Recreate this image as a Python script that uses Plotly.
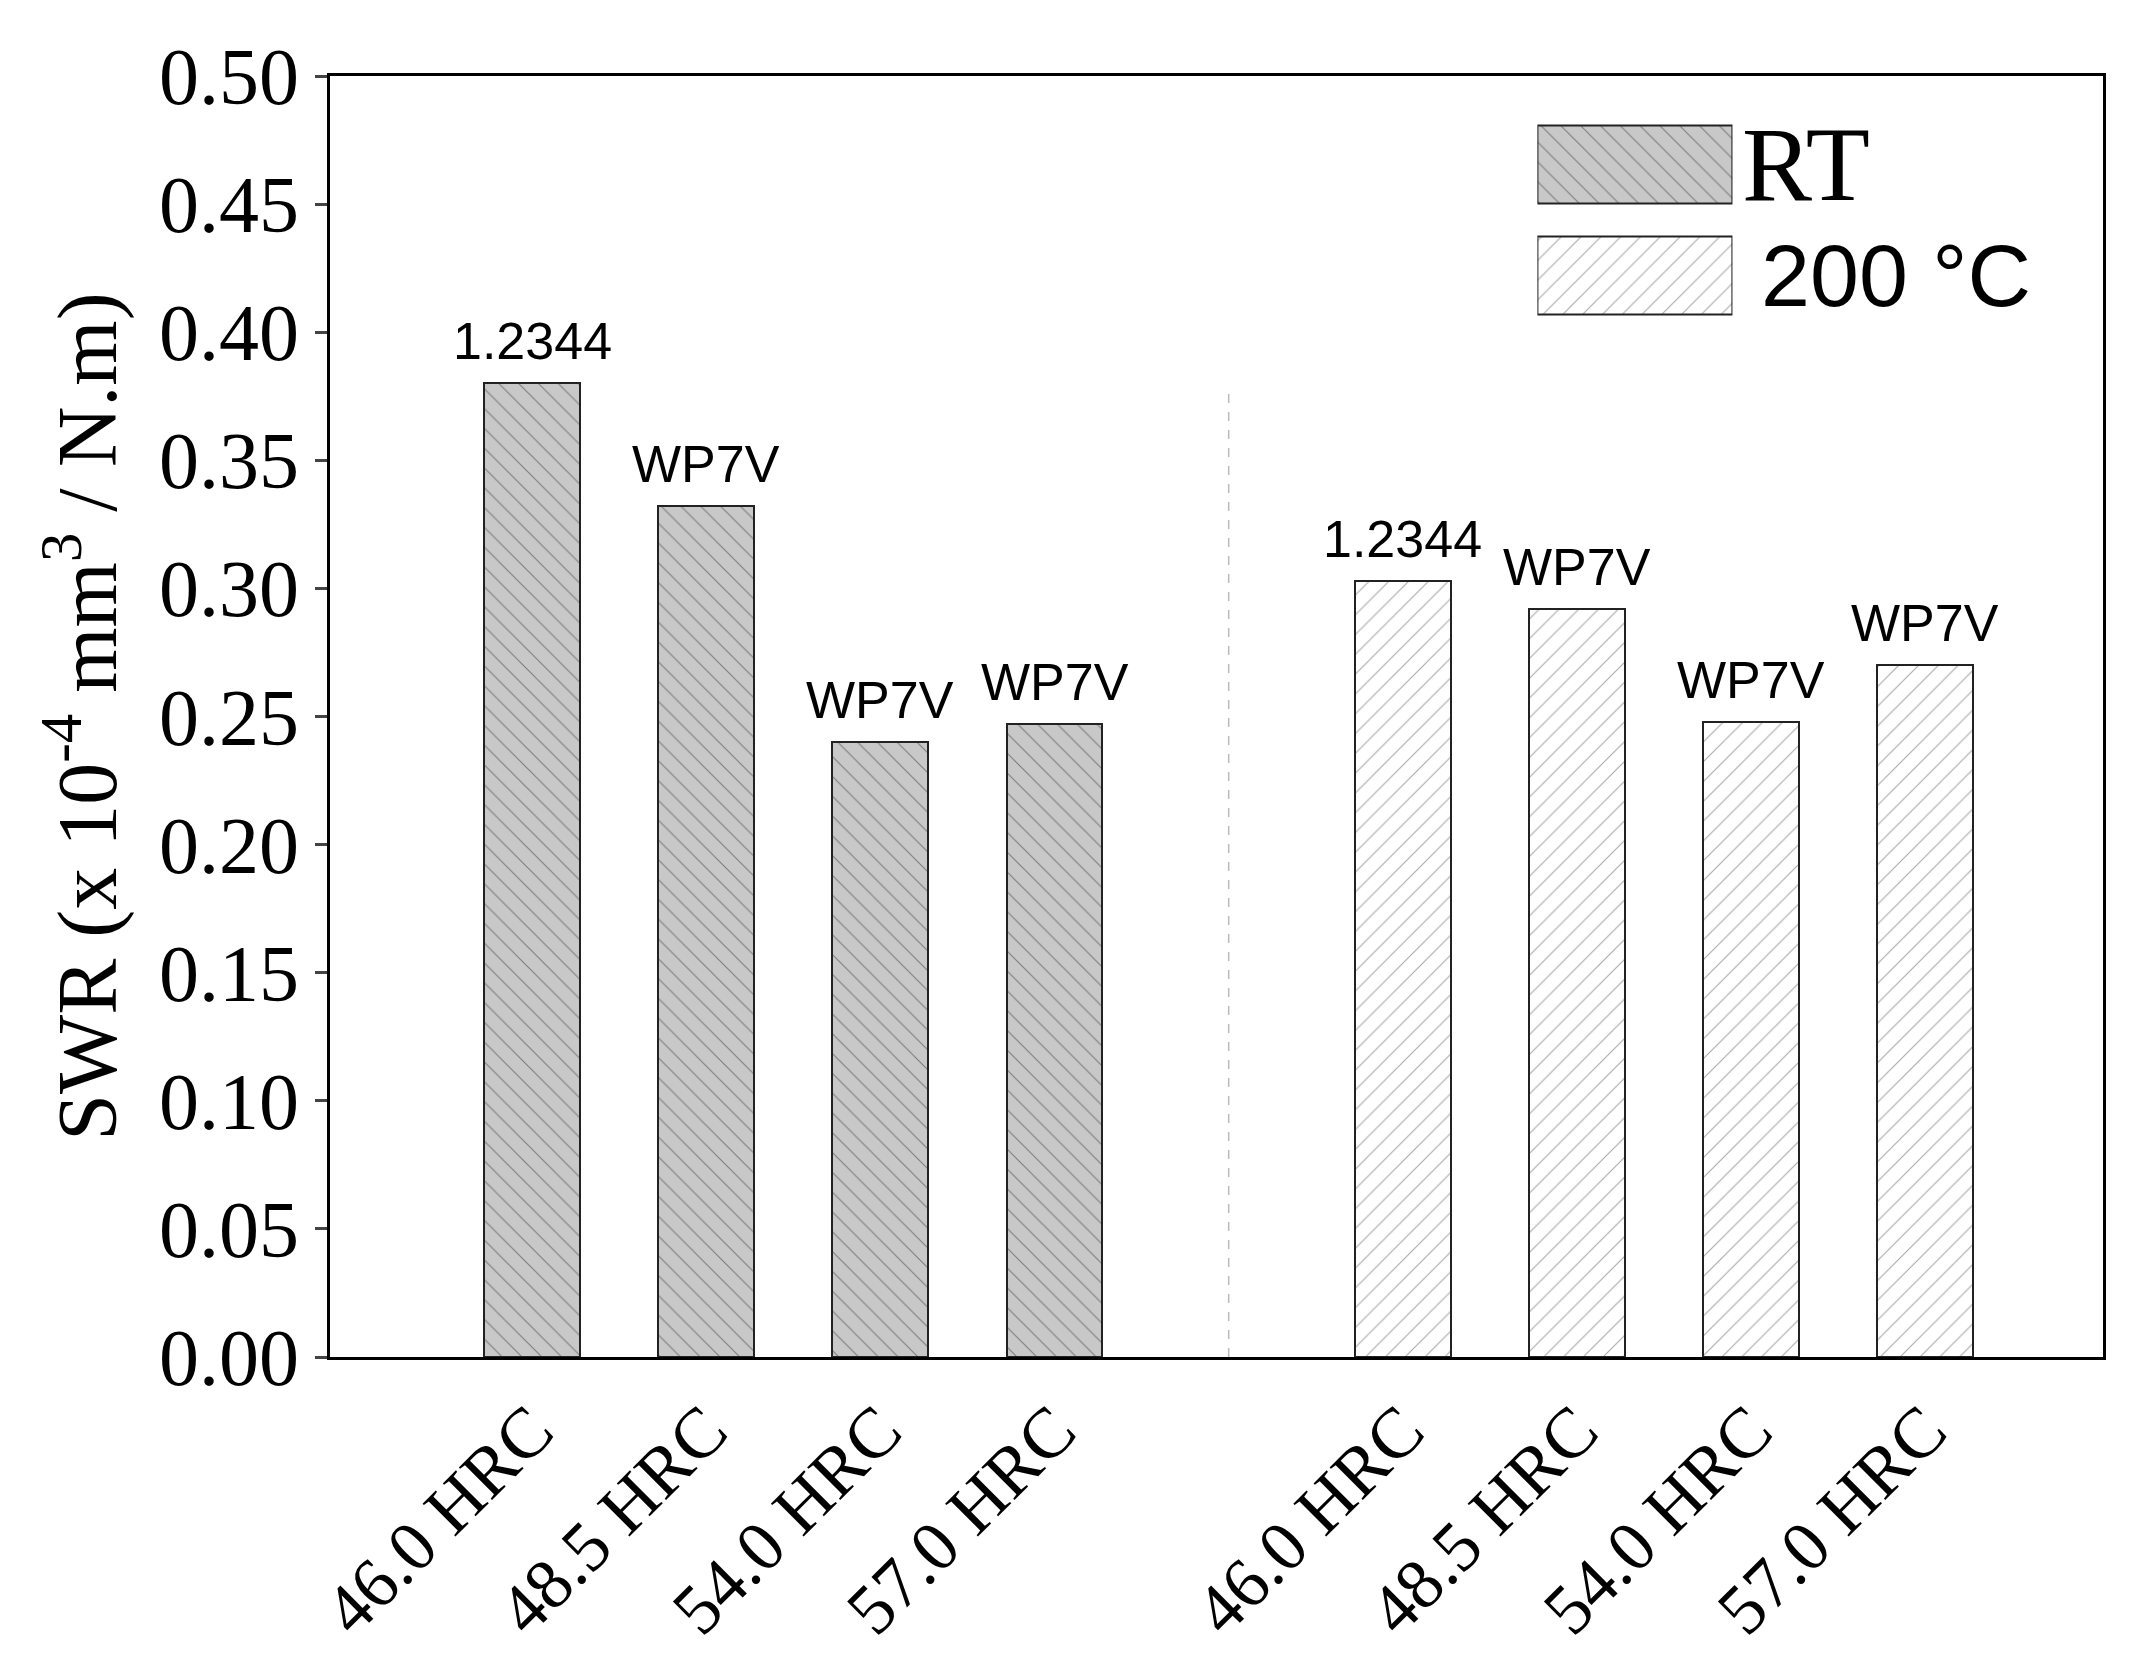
import plotly.graph_objects as go

pos_rt = [0, 1, 2, 3]
pos_hot = [5, 6, 7, 8]
hardness = ["46.0 HRC", "48.5 HRC", "54.0 HRC", "57.0 HRC"]
rt_vals = [0.380, 0.332, 0.240, 0.247]
hot_vals = [0.303, 0.292, 0.248, 0.270]
rt_labels = ["1.2344", "WP7V", "WP7V", "WP7V"]
hot_labels = ["1.2344", "WP7V", "WP7V", "WP7V"]

W = 0.55
fig = go.Figure()
fig.add_bar(x=pos_rt, y=rt_vals, width=W, showlegend=False,
            marker=dict(color="#c8c8c8", line=dict(color="#222", width=2),
                        pattern=dict(shape="\\", fgcolor="#333", bgcolor="#c8c8c8", size=14, solidity=0.08)))
fig.add_bar(x=pos_hot, y=hot_vals, width=W, showlegend=False,
            marker=dict(color="white", line=dict(color="#222", width=2),
                        pattern=dict(shape="/", fgcolor="#555", bgcolor="white", size=14, solidity=0.08)))
# legend swatches
fig.add_bar(y=[1], x=[1], orientation="h", width=0.7, xaxis="x2", yaxis="y2", showlegend=False,
            marker=dict(color="#c8c8c8", line=dict(color="#222", width=2),
                        pattern=dict(shape="\\", fgcolor="#333", bgcolor="#c8c8c8", size=14, solidity=0.08)))
fig.add_bar(y=[0], x=[1], orientation="h", width=0.7, xaxis="x2", yaxis="y2", showlegend=False,
            marker=dict(color="white", line=dict(color="#222", width=2),
                        pattern=dict(shape="/", fgcolor="#555", bgcolor="white", size=14, solidity=0.08)))

ann = []
for p, v, t in zip(pos_rt + pos_hot, rt_vals + hot_vals, rt_labels + hot_labels):
    ann.append(dict(x=p, y=v, text=t, showarrow=False, yshift=42,
                    font=dict(family="Liberation Sans, Arial", size=52, color="black")))
ann.append(dict(xref="paper", yref="paper", x=0.795, y=0.931, text="RT", showarrow=False,
                xanchor="left", yanchor="middle",
                font=dict(family="Liberation Serif", size=105, color="black")))
ann.append(dict(xref="paper", yref="paper", x=0.806, y=0.844, text="200 °C", showarrow=False,
                xanchor="left", yanchor="middle",
                font=dict(family="Liberation Sans", size=88, color="black")))

fig.add_shape(type="line", x0=4, x1=4, y0=0, y1=0.379, xref="x", yref="y",
              line=dict(color="#bbb", width=1.5, dash="dash"))

fig.update_layout(
    width=2139, height=1654, plot_bgcolor="white", paper_bgcolor="white",
    margin=dict(l=322, r=44, t=68, b=305),
    annotations=ann, bargap=0,
    xaxis=dict(range=[-1.16, 9.02], tickvals=pos_rt + pos_hot, ticktext=hardness + hardness,
               tickangle=-45, showgrid=False, zeroline=False, ticks="",
               showline=True, linecolor="black", linewidth=3, mirror=True,
               tickfont=dict(family="Liberation Serif", size=71, color="black")),
    yaxis=dict(range=[0, 0.5], dtick=0.05, tickformat=".2f", showgrid=False, zeroline=False,
               ticks="outside", ticklen=12, tickwidth=3, showline=True, linecolor="black",
               linewidth=3, mirror=True,
               tickfont=dict(family="Liberation Serif", size=80, color="black"),
               title=dict(text="SWR (x 10<sup>-4</sup> mm<sup>3</sup> / N.m)",
                          font=dict(family="Liberation Serif", size=84, color="black"), standoff=15)),
    xaxis2=dict(domain=[0.681, 0.791], range=[0, 1], visible=False, anchor="y2"),
    yaxis2=dict(domain=[0.782, 0.995], range=[-0.718, 1.736], visible=False, anchor="x2"),
)
fig.write_html("out.html")
